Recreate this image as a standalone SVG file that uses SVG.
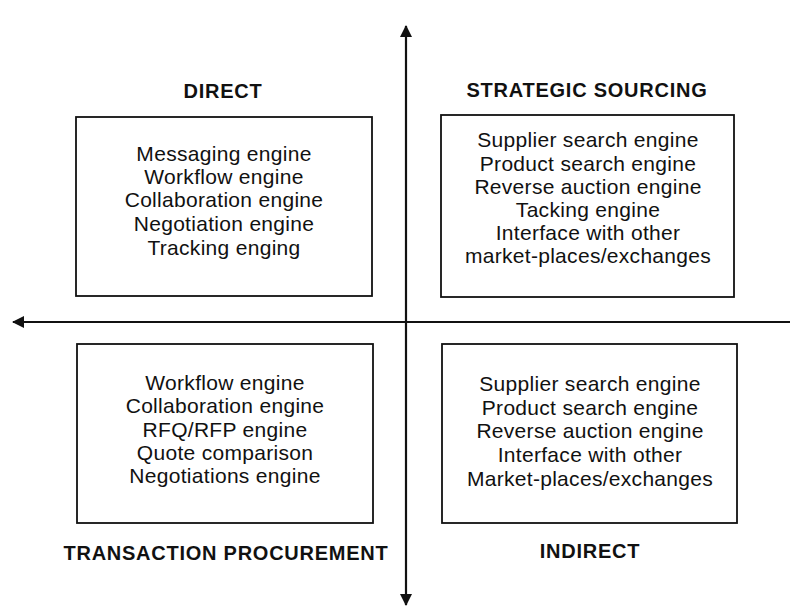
<svg xmlns="http://www.w3.org/2000/svg" width="792" height="608" viewBox="0 0 792 608">
<style>
.box{fill:#fff;stroke:#111;stroke-width:1.8}
.ax{stroke:#111;stroke-width:2.2;fill:none}
.t{font-family:"Liberation Sans",Arial,sans-serif;font-size:21px;letter-spacing:0.3px;fill:#111;text-anchor:middle}
.h{font-family:"Liberation Sans",Arial,sans-serif;font-size:20px;font-weight:bold;letter-spacing:0.75px;fill:#111;text-anchor:middle}
</style>
<defs>
<marker id="arr" viewBox="0 0 12 12" refX="11" refY="6" markerWidth="12" markerHeight="12" markerUnits="userSpaceOnUse" orient="auto">
<path d="M0,0 L12,6 L0,12 Z" fill="#111"/>
</marker>
</defs>
<g id="connectors">
<line class="ax" x1="406" y1="320" x2="406" y2="26" marker-end="url(#arr)"/>
<line class="ax" x1="406" y1="320" x2="406" y2="605" marker-end="url(#arr)"/>
<line class="ax" x1="406" y1="322" x2="13" y2="322" marker-end="url(#arr)"/>
<line class="ax" x1="406" y1="322" x2="790" y2="322"/>
</g>
<g id="direct">
<text class="h" x="223" y="98">DIRECT</text>
<rect class="box" x="76" y="117" width="296" height="179"/>
<text class="t" x="224" y="161">Messaging engine</text>
<text class="t" x="224" y="184">Workflow engine</text>
<text class="t" x="224" y="207">Collaboration engine</text>
<text class="t" x="224" y="231">Negotiation engine</text>
<text class="t" x="224" y="255">Tracking enging</text>
</g>
<g id="strategic">
<text class="h" x="587" y="97">STRATEGIC SOURCING</text>
<rect class="box" x="441" y="115" width="293" height="182"/>
<text class="t" x="588" y="147">Supplier search engine</text>
<text class="t" x="588" y="171">Product search engine</text>
<text class="t" x="588" y="194">Reverse auction engine</text>
<text class="t" x="588" y="217">Tacking engine</text>
<text class="t" x="588" y="240">Interface with other</text>
<text class="t" x="588" y="263">market-places/exchanges</text>
</g>
<g id="transaction">
<rect class="box" x="77" y="344" width="296" height="179"/>
<text class="t" x="225" y="390">Workflow engine</text>
<text class="t" x="225" y="413">Collaboration engine</text>
<text class="t" x="225" y="437">RFQ/RFP engine</text>
<text class="t" x="225" y="460">Quote comparison</text>
<text class="t" x="225" y="483">Negotiations engine</text>
<text class="h" x="226" y="560">TRANSACTION PROCUREMENT</text>
</g>
<g id="indirect">
<rect class="box" x="442" y="344" width="295" height="179"/>
<text class="t" x="590" y="391">Supplier search engine</text>
<text class="t" x="590" y="415">Product search engine</text>
<text class="t" x="590" y="438">Reverse auction engine</text>
<text class="t" x="590" y="462">Interface with other</text>
<text class="t" x="590" y="486">Market-places/exchanges</text>
<text class="h" x="590" y="558">INDIRECT</text>
</g>
</svg>
